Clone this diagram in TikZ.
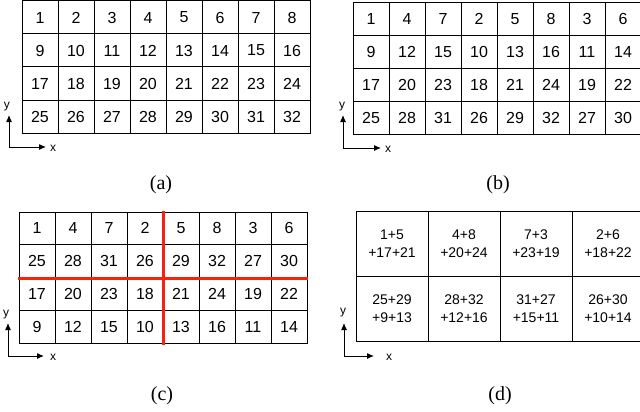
\documentclass[tikz,border=0pt]{standalone}
\usepackage{fontspec}
\setmainfont{Liberation Serif}
\setsansfont{Liberation Sans}
\usetikzlibrary{arrows.meta}
\definecolor{cutred}{RGB}{245,35,10}

\begin{document}
\begin{tikzpicture}[x=1pt,y=-1pt,
  gridline/.style={line width=1pt, draw=black},
  cell/.style={font=\sffamily\fontsize{16}{16}\selectfont, inner sep=0pt},
  sumcell/.style={font=\sffamily\fontsize{14}{18}\selectfont, align=center, inner sep=0pt},
  cut/.style={line width=3pt, draw=cutred},
  axis/.style={line width=1pt, -{Latex[length=7pt,width=6pt]}},
  axislabel/.style={font=\sffamily\fontsize{12}{12}\selectfont, inner sep=0pt},
  caption/.style={font=\fontsize{20}{20}\selectfont, inner sep=0pt}]
\useasboundingbox (0,0) rectangle (640,412);

% ---------- (a) row-major numbering ----------
\begin{scope}[shift={(22,1)}]
  \draw[gridline] (0,0) rectangle (288,132);
  \foreach \i in {1,...,7} \draw[gridline] (36*\i,0) -- (36*\i,132);
  \foreach \j in {1,2,3} \draw[gridline] (0,33*\j) -- (288,33*\j);
  \foreach \v [count=\k from 0] in {1,...,32} {
    \pgfmathtruncatemacro\c{mod(\k,8)}
    \pgfmathtruncatemacro\r{div(\k,8)}
    \node[cell] (a-\k) at (36*\c+18, 33*\r+16.5) {\v};
  }
\end{scope}
\coordinate (ao) at (9,147);
\coordinate (ay) at (9,115);
\coordinate (ax) at (46,147);
\draw[axis] (ao) -- (ay);
\draw[axis] (ao) -- (ax);
\node[axislabel] (aylab) at (7,107) {y};
\node[axislabel] (axlab) at (53,148) {x};
\node[caption] (acap) at (161,185) {(a)};

% ---------- (b) columns interleaved ----------
\begin{scope}[shift={(353,3)}]
  \draw[gridline] (0,0) rectangle (288,131);
  \foreach \i in {1,...,7} \draw[gridline] (36*\i,0) -- (36*\i,131);
  \foreach \j in {1,2,3} \draw[gridline] (0,32.75*\j) -- (288,32.75*\j);
  \foreach \v [count=\k from 0] in {1,4,7,2,5,8,3,6,
                                   9,12,15,10,13,16,11,14,
                                   17,20,23,18,21,24,19,22,
                                   25,28,31,26,29,32,27,30} {
    \pgfmathtruncatemacro\c{mod(\k,8)}
    \pgfmathtruncatemacro\r{div(\k,8)}
    \node[cell] (b-\k) at (36*\c+18, 32.75*\r+16.4) {\v};
  }
\end{scope}
\coordinate (bo) at (343,148);
\coordinate (by) at (343,115);
\coordinate (bx) at (381,148);
\draw[axis] (bo) -- (by);
\draw[axis] (bo) -- (bx);
\node[axislabel] (bylab) at (342,107) {y};
\node[axislabel] (bxlab) at (388,149) {x};
\node[caption] (bcap) at (498,185) {(b)};

% ---------- (c) rows interleaved, split into quadrants ----------
\begin{scope}[shift={(19,212)}]
  \draw[gridline] (0,0) rectangle (288,131);
  \foreach \i in {1,...,7} \draw[gridline] (36*\i,0) -- (36*\i,131);
  \foreach \y in {32,66,98} \draw[gridline] (0,\y) -- (288,\y);
  \foreach \v [count=\k from 0] in {1,4,7,2,5,8,3,6,
                                   25,28,31,26,29,32,27,30,
                                   17,20,23,18,21,24,19,22,
                                   9,12,15,10,13,16,11,14} {
    \pgfmathtruncatemacro\c{mod(\k,8)}
    \pgfmathtruncatemacro\r{div(\k,8)}
    \node[cell] (c-\k) at (36*\c+18, 32.75*\r+16.4) {\v};
  }
  \draw[cut] (144,-1.5) -- (144,132.5);
  \draw[cut] (-1,66) -- (288.5,66);
\end{scope}
\coordinate (co) at (8,356);
\coordinate (cy) at (8,323);
\coordinate (cx) at (44,356);
\draw[axis] (co) -- (cy);
\draw[axis] (co) -- (cx);
\node[axislabel] (cylab) at (6,315) {y};
\node[axislabel] (cxlab) at (53,357) {x};
\node[caption] (ccap) at (162,396) {(c)};

% ---------- (d) quadrant sums ----------
\begin{scope}[shift={(356,211)}]
  \draw[gridline] (0,0) rectangle (288,130);
  \foreach \i in {1,2,3} \draw[gridline] (72*\i,0) -- (72*\i,130);
  \draw[gridline] (0,65) -- (288,65);
  \foreach \t [count=\k from 0] in {1+5\\+17+21, 4+8\\+20+24, 7+3\\+23+19, 2+6\\+18+22,
                                   25+29\\+9+13, 28+32\\+12+16, 31+27\\+15+11, 26+30\\+10+14} {
    \pgfmathtruncatemacro\c{mod(\k,4)}
    \pgfmathtruncatemacro\r{div(\k,4)}
    \node[sumcell] (d-\k) at (72*\c+36, 65*\r+32.5) {\t};
  }
\end{scope}
\coordinate (do) at (344,356);
\coordinate (dy) at (344,323);
\coordinate (dx) at (374,356);
\draw[axis] (do) -- (dy);
\draw[axis] (do) -- (dx);
\node[axislabel] (dylab) at (343,313) {y};
\node[axislabel] (dxlab) at (389,357) {x};
\node[caption] (dcap) at (500,396) {(d)};
\end{tikzpicture}
\end{document}
